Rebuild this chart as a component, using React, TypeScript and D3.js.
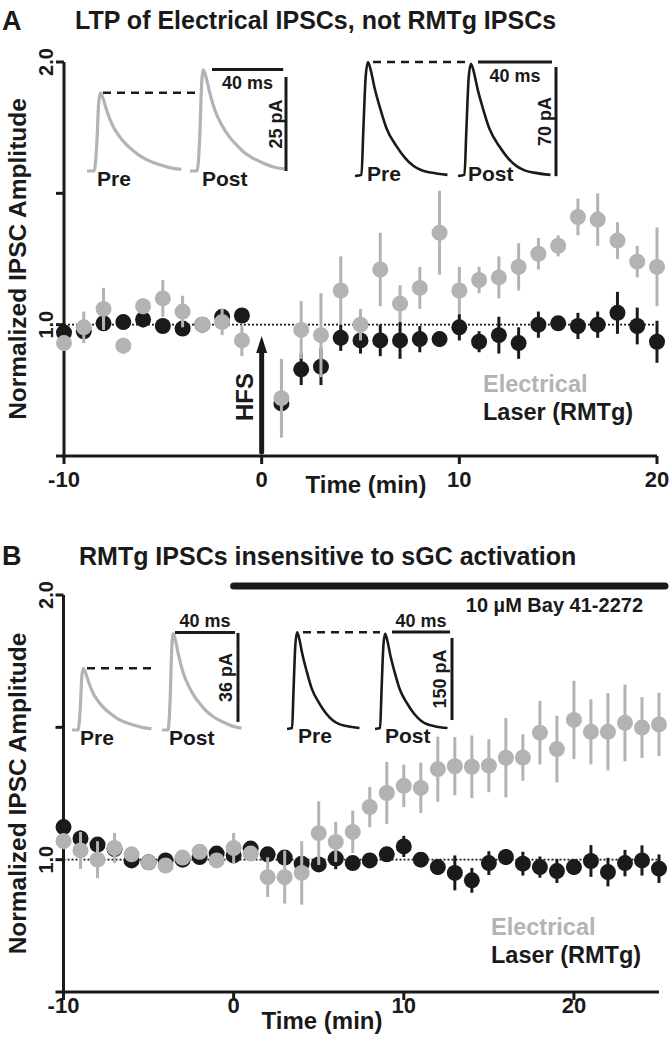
import React from "react";
import * as d3 from "d3";

// ---------- DATA ----------
const timesA = [-10, -9, -8, -7, -6, -5, -4, -3, -2, -1, 1, 2, 3, 4, 5, 6, 7, 8, 9, 10, 11, 12, 13, 14, 15, 16, 17, 18, 19, 20];
const elecA = [0.93, 0.99, 1.06, 0.92, 1.07, 1.1, 1.05, 1.0, 1.01, 0.94, 0.72, 0.98, 0.96, 1.13, 1.0, 1.21, 1.08, 1.14, 1.35, 1.13, 1.17, 1.18, 1.22, 1.27, 1.3, 1.41, 1.4, 1.32, 1.24, 1.22];
const elecAErr = [0.03, 0.06, 0.08, 0.03, 0.03, 0.07, 0.06, 0.02, 0.05, 0.06, 0.15, 0.11, 0.16, 0.13, 0.06, 0.14, 0.07, 0.08, 0.16, 0.09, 0.05, 0.08, 0.09, 0.06, 0.04, 0.07, 0.1, 0.07, 0.06, 0.15];
const laserA = [0.97, 0.975, 1.005, 1.01, 1.02, 0.995, 0.985, 1.0, 1.03, 1.035, 0.7, 0.83, 0.84, 0.95, 0.94, 0.94, 0.94, 0.945, 0.945, 0.99, 0.935, 0.96, 0.93, 1.0, 1.005, 0.995, 1.0, 1.045, 0.995, 0.935];
const laserAErr = [0.02, 0.02, 0.02, 0.02, 0.03, 0.02, 0.02, 0.02, 0.02, 0.02, 0.02, 0.06, 0.07, 0.05, 0.05, 0.06, 0.07, 0.05, 0.03, 0.05, 0.04, 0.07, 0.06, 0.05, 0.02, 0.05, 0.05, 0.08, 0.07, 0.08];

const timesB = [-10, -9, -8, -7, -6, -5, -4, -3, -2, -1, 0, 1, 2, 3, 4, 5, 6, 7, 8, 9, 10, 11, 12, 13, 14, 15, 16, 17, 18, 19, 20, 21, 22, 23, 24, 25];
const elecB = [1.07, 1.035, 1.0, 1.044, 1.02, 0.99, 0.978, 1.008, 1.03, 0.997, 1.044, 1.023, 0.934, 0.934, 0.95, 1.1, 1.067, 1.105, 1.199, 1.252, 1.279, 1.271, 1.342, 1.353, 1.351, 1.355, 1.385, 1.386, 1.48, 1.418, 1.528, 1.483, 1.483, 1.517, 1.499, 1.511];
const elecBErr = [0.03, 0.07, 0.07, 0.057, 0.02, 0.02, 0.02, 0.02, 0.02, 0.02, 0.057, 0.02, 0.075, 0.1, 0.12, 0.12, 0.076, 0.08, 0.076, 0.117, 0.08, 0.095, 0.123, 0.11, 0.118, 0.1, 0.15, 0.088, 0.12, 0.126, 0.148, 0.123, 0.146, 0.145, 0.115, 0.12];
const laserB = [1.123, 1.08, 1.057, 1.04, 0.997, 0.99, 0.997, 1.0, 1.01, 1.023, 1.016, 1.042, 1.02, 1.008, 0.985, 0.982, 1.004, 0.987, 0.997, 1.02, 1.05, 1.0, 0.972, 0.95, 0.922, 0.987, 1.01, 0.985, 0.972, 0.957, 0.972, 0.995, 0.953, 0.987, 0.997, 0.966];
const laserBErr = [0.05, 0.03, 0.02, 0.02, 0.02, 0.02, 0.02, 0.02, 0.02, 0.02, 0.02, 0.02, 0.02, 0.02, 0.02, 0.02, 0.04, 0.02, 0.02, 0.02, 0.04, 0.02, 0.03, 0.066, 0.047, 0.045, 0.03, 0.045, 0.04, 0.045, 0.03, 0.06, 0.054, 0.05, 0.057, 0.054];

const xTicks = [-10, 0, 10, 20];
const yTicks = [0.5, 1.0, 1.5, 2.0];
const yTickLabels = [2.0, 1.0];

// sample trace shapes: [ms, fraction of peak]
const grayTraceShape: [number, number][] = [[0, 0], [4, 0], [5.5, 0.35], [6.5, 0.85], [7.5, 1], [9, 0.93], [11, 0.78], [14, 0.6], [18, 0.45], [22, 0.34], [26, 0.26], [30, 0.19], [35, 0.13], [41, 0.08], [47, 0.04], [53, 0.02]];
const blackTraceShape: [number, number][] = [[0, 0], [3.5, 0.01], [4.5, 0.4], [5.8, 0.88], [7, 1], [8.5, 0.93], [10.5, 0.78], [13.5, 0.6], [17, 0.42], [22.5, 0.26], [27, 0.16], [31.5, 0.09], [36, 0.05], [41, 0.03], [50, 0.01]];

// peak amplitudes (pA): [pre, post]
const peaksAElec = [20.8, 26.9];
const peaksALaser = [73, 72];
const peaksBElec = [25, 39];
const peaksBLaser = [177, 174];
const scaleBarsPA = [25, 70, 36, 150];
const scaleBarMs = 40;

// ---------- STYLE ----------
const FONT = '"Liberation Sans", Arial, Helvetica, sans-serif';
const GRAY = "#b3b3b3";
const BLACK = "#1a1a1a";

const xA = d3.scaleLinear().domain([-10, 20]).range([64, 657]);
const yA = d3.scaleLinear().domain([0.5, 2.0]).range([456, 62]);
const xB = d3.scaleLinear().domain([-10, 25]).range([63.5, 659]);
const yB = d3.scaleLinear().domain([0.5, 2.0]).range([992, 595]);

type Sc = d3.ScaleLinear<number, number>;

function Series({ times, vals, errs, x, y, color }: { times: number[]; vals: number[]; errs: number[]; x: Sc; y: Sc; color: string }) {
  return (
    <g>
      {times.map((t, i) => (
        <g key={i}>
          <line x1={x(t)} x2={x(t)} y1={y(vals[i] - errs[i])} y2={y(vals[i] + errs[i])} stroke={color} strokeWidth={3} />
          <circle cx={x(t)} cy={y(vals[i])} r={8} fill={color} />
        </g>
      ))}
    </g>
  );
}

function Axes({ x, y, tickLabelY, timeLabelX, timeLabelY }: { x: Sc; y: Sc; tickLabelY: number; timeLabelX: number; timeLabelY: number }) {
  const [x0, x1] = x.range();
  const [yb, yt] = y.range();
  const ylabelCenter = (yb + yt) / 2;
  return (
    <g fontFamily={FONT} fontWeight="bold" fill={BLACK}>
      <line x1={x0} x2={x1} y1={y(1)} y2={y(1)} stroke={BLACK} strokeWidth={1.6} strokeDasharray="2,2" />
      <line x1={x0} x2={x0} y1={yt} y2={yb + 1.5} stroke={BLACK} strokeWidth={3} />
      <line x1={x0 - 1.5} x2={x1} y1={yb} y2={yb} stroke={BLACK} strokeWidth={3} />
      {yTicks.map((v) => (
        <line key={v} x1={x0 - 8} x2={x0} y1={y(v)} y2={y(v)} stroke={BLACK} strokeWidth={3} />
      ))}
      {xTicks.map((t) => (
        <line key={t} x1={x(t)} x2={x(t)} y1={yb} y2={yb + 8} stroke={BLACK} strokeWidth={3} />
      ))}
      {xTicks.map((t) => (
        <text key={t} x={x(t)} y={tickLabelY} fontSize={22} textAnchor="middle">{t}</text>
      ))}
      {yTickLabels.map((v) => (
        <text key={v} transform={`translate(53,${y(v)}) rotate(-90)`} fontSize={20} textAnchor="middle">{v.toFixed(1)}</text>
      ))}
      <text transform={`translate(26,${ylabelCenter}) rotate(-90)`} fontSize={24.5} textAnchor="middle">Normalized IPSC Amplitude</text>
      <text x={timeLabelX} y={timeLabelY} fontSize={24} textAnchor="middle">Time (min)</text>
    </g>
  );
}

type InsetLayout = {
  preX0: number; postX0: number; base: number; msPx: number; paPx: number;
  barY: number; barX0: number; vBarX: number; vBarTop: number;
  msLabelY: number; paLabelX: number; preLabelX: number; postLabelX: number; labelY: number;
  dashX0: number; dashX1: number;
};

function Inset({ shape, peaks, scalePA, color, lay, width }: { shape: [number, number][]; peaks: number[]; scalePA: number; color: string; lay: InsetLayout; width: number }) {
  const line = d3.line<[number, number]>().curve(d3.curveMonotoneX);
  const mk = (x0: number, peak: number) =>
    line(shape.map(([ms, f]) => [x0 + ms * lay.msPx, lay.base - f * peak * lay.paPx] as [number, number])) || "";
  const prePeakY = lay.base - peaks[0] * lay.paPx;
  const barLen = scaleBarMs * lay.msPx;
  const vLen = scalePA * lay.paPx;
  return (
    <g fontFamily={FONT} fontWeight="bold" fill={BLACK}>
      <path d={mk(lay.preX0, peaks[0])} fill="none" stroke={color} strokeWidth={width} strokeLinejoin="round" />
      <path d={mk(lay.postX0, peaks[1])} fill="none" stroke={color} strokeWidth={width} strokeLinejoin="round" />
      <line x1={lay.dashX0} x2={lay.dashX1} y1={prePeakY} y2={prePeakY} stroke={BLACK} strokeWidth={2.5} strokeDasharray="8,6" />
      <line x1={lay.barX0} x2={lay.barX0 + barLen} y1={lay.barY} y2={lay.barY} stroke={BLACK} strokeWidth={3} />
      <line x1={lay.vBarX} x2={lay.vBarX} y1={lay.vBarTop} y2={lay.vBarTop + vLen} stroke={BLACK} strokeWidth={3} />
      <text x={lay.barX0 + barLen / 2} y={lay.msLabelY} fontSize={18} textAnchor="middle">{`${scaleBarMs} ms`}</text>
      <text transform={`translate(${lay.paLabelX},${lay.vBarTop + vLen / 2}) rotate(-90)`} fontSize={18} textAnchor="middle">{`${scalePA} pA`}</text>
      <text x={lay.preLabelX} y={lay.labelY} fontSize={21}>Pre</text>
      <text x={lay.postLabelX} y={lay.labelY} fontSize={21}>Post</text>
    </g>
  );
}

export default function App() {
  return (
    <svg width={669} height={1041} style={{ position: "absolute", left: 0, top: 0, background: "#fff" }}>
      {/* ---------- Panel A ---------- */}
      <text x={2} y={30} fontFamily={FONT} fontWeight="bold" fontSize={27} fill={BLACK}>A</text>
      <text x={75} y={29} fontFamily={FONT} fontWeight="bold" fontSize={25} fill={BLACK}>LTP of Electrical IPSCs, not RMTg IPSCs</text>
      <Axes x={xA} y={yA} tickLabelY={487} timeLabelX={366} timeLabelY={493} />
      <Inset shape={grayTraceShape} peaks={peaksAElec} scalePA={scaleBarsPA[0]} color={GRAY} width={3.2}
        lay={{ preX0: 87, postX0: 190, base: 171, msPx: 1.78, paPx: 3.76, barY: 69.5, barX0: 212, vBarX: 286, vBarTop: 77,
          msLabelY: 89, paLabelX: 282, preLabelX: 97, postLabelX: 202, labelY: 186, dashX0: 103, dashX1: 198 }} />
      <Inset shape={blackTraceShape} peaks={peaksALaser} scalePA={scaleBarsPA[1]} color={BLACK} width={2.6}
        lay={{ preX0: 355, postX0: 458, base: 176, msPx: 1.85, paPx: 1.56, barY: 62, barX0: 478, vBarX: 556, vBarTop: 67,
          msLabelY: 82, paLabelX: 551, preLabelX: 367, postLabelX: 468, labelY: 181, dashX0: 373, dashX1: 467 }} />
      {/* HFS arrow */}
      <g>
        <line x1={xA(0)} x2={xA(0)} y1={452} y2={350} stroke={BLACK} strokeWidth={5} strokeLinecap="round" />
        <path d={`M${xA(0)},336 L${xA(0) - 5.5},353 L${xA(0) + 5.5},353 Z`} fill={BLACK} />
        <text transform={`translate(253,397) rotate(-90)`} fontFamily={FONT} fontWeight="bold" fontSize={24} textAnchor="middle" fill={BLACK}>HFS</text>
      </g>
      <Series times={timesA} vals={laserA} errs={laserAErr} x={xA} y={yA} color={BLACK} />
      <Series times={timesA} vals={elecA} errs={elecAErr} x={xA} y={yA} color={GRAY} />
      <text x={483} y={392} fontFamily={FONT} fontWeight="bold" fontSize={23.5} fill={GRAY}>Electrical</text>
      <text x={483} y={420} fontFamily={FONT} fontWeight="bold" fontSize={23.5} fill={BLACK}>Laser (RMTg)</text>

      {/* ---------- Panel B ---------- */}
      <text x={2} y={565} fontFamily={FONT} fontWeight="bold" fontSize={27} fill={BLACK}>B</text>
      <text x={79} y={565} fontFamily={FONT} fontWeight="bold" fontSize={25} fill={BLACK}>RMTg IPSCs insensitive to sGC activation</text>
      <line x1={xB(0)} x2={665} y1={586} y2={586} stroke={BLACK} strokeWidth={7} strokeLinecap="round" />
      <text x={643} y={612} fontFamily={FONT} fontWeight="bold" fontSize={20} textAnchor="end" fill={BLACK}>10 µM Bay 41-2272</text>
      <Axes x={xB} y={yB} tickLabelY={1013} timeLabelX={322} timeLabelY={1029} />
      <Inset shape={grayTraceShape} peaks={peaksBElec} scalePA={scaleBarsPA[2]} color={GRAY} width={3.2}
        lay={{ preX0: 72, postX0: 162, base: 730, msPx: 1.5, paPx: 2.47, barY: 632.5, barX0: 175, vBarX: 238, vBarTop: 633,
          msLabelY: 627, paLabelX: 232, preLabelX: 80, postLabelX: 169, labelY: 745, dashX0: 87, dashX1: 157 }} />
      <Inset shape={blackTraceShape} peaks={peaksBLaser} scalePA={scaleBarsPA[3]} color={BLACK} width={2.6}
        lay={{ preX0: 287, postX0: 375, base: 729, msPx: 1.45, paPx: 0.547, barY: 632, barX0: 392, vBarX: 452, vBarTop: 638,
          msLabelY: 627, paLabelX: 446, preLabelX: 298, postLabelX: 385, labelY: 743, dashX0: 303, dashX1: 380 }} />
      <Series times={timesB} vals={laserB} errs={laserBErr} x={xB} y={yB} color={BLACK} />
      <Series times={timesB} vals={elecB} errs={elecBErr} x={xB} y={yB} color={GRAY} />
      <text x={491} y={935} fontFamily={FONT} fontWeight="bold" fontSize={23.5} fill={GRAY}>Electrical</text>
      <text x={491} y={963} fontFamily={FONT} fontWeight="bold" fontSize={23.5} fill={BLACK}>Laser (RMTg)</text>
    </svg>
  );
}
